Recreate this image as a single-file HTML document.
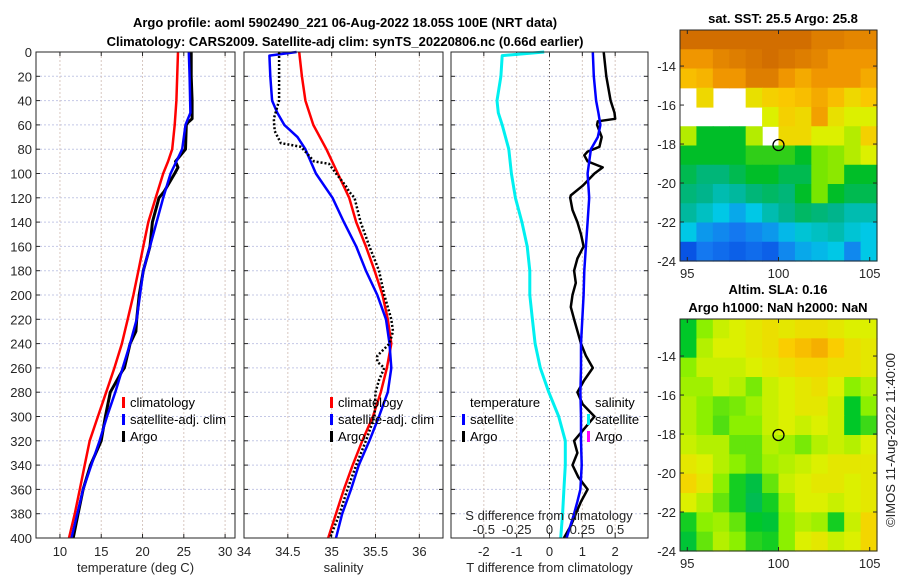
<!DOCTYPE html>
<html><head><meta charset="utf-8">
<style>
html,body{margin:0;padding:0;background:#fff;}
svg{display:block;font-family:"Liberation Sans","DejaVu Sans",sans-serif;}
</style></head>
<body>
<svg id="c" width="900" height="580" viewBox="0 0 900 580" xmlns="http://www.w3.org/2000/svg">
<text x="345" y="27" text-anchor="middle" font-size="13" font-weight="bold" fill="#000">Argo profile: aoml 5902490_221 06-Aug-2022 18.05S 100E (NRT data)</text>
<text x="345" y="46" text-anchor="middle" font-size="13" font-weight="bold" fill="#000">Climatology: CARS2009. Satellite-adj clim: synTS_20220806.nc (0.66d earlier)</text>
<text x="783" y="23" text-anchor="middle" font-size="13" font-weight="bold">sat. SST: 25.5 Argo: 25.8</text>
<text x="778" y="294" text-anchor="middle" font-size="13" font-weight="bold">Altim. SLA: 0.16</text>
<text x="778" y="312" text-anchor="middle" font-size="13" font-weight="bold">Argo h1000: NaN h2000: NaN</text>
<text transform="translate(895,440) rotate(-90)" text-anchor="middle" font-size="13" fill="#262626">©IMOS 11-Aug-2022 11:40:00</text>
<g id="g"></g>
</svg>
<script>
// ---------- data ----------
const depthTicks = [0,20,40,60,80,100,120,140,160,180,200,220,240,260,280,300,320,340,360,380,400];
const tTicks = [10,15,20,25,30];
const sTicks = [34,34.5,35,35.5,36];
const dTicks = [-2,-1,0,1,2];
const sdTicks = [-0.5,-0.25,0,0.25,0.5];
const sdTickLabels = ["-0.5","-0.25","0","0.25","0.5"];

const climTdepth = [0,20,40,60,80,90,100,120,140,160,180,200,220,240,260,280,300,320,340,360,380,400];
const climT = [24.3,24.2,24.1,23.9,23.6,23.1,22.5,21.6,20.7,20.1,19.5,18.9,18.2,17.5,16.6,15.6,14.6,13.6,13.0,12.4,11.8,11.1];
const satTdepth = [0,20,50,60,80,100,120,140,160,180,200,220,240,260,280,300,320,340,360,380,400];
const satT = [25.6,25.7,25.8,25.2,24.8,23.4,22.5,21.7,20.9,20.1,19.7,19.3,18.5,17.6,16.7,15.7,14.8,13.8,12.8,12.1,11.4];
const argoTdepth = [0,20,40,55,58,60,80,90,95,100,115,120,140,160,180,200,220,230,240,260,263,280,300,320,340,360,380,400];
const argoT = [25.9,25.9,26.0,26.0,25.5,25.3,25.2,24.0,24.3,23.9,22.6,22.0,21.2,20.9,20.1,19.6,19.3,19.2,18.5,17.8,17.5,16.1,15.5,15.0,13.7,12.8,12.2,11.6];

const climSdepth = [0,20,40,60,80,100,120,140,160,180,200,220,240,260,280,300,320,340,360,380,400];
const climS = [34.63,34.66,34.70,34.79,34.94,35.07,35.20,35.28,35.39,35.49,35.58,35.64,35.68,35.63,35.56,35.47,35.35,35.24,35.14,35.05,34.96];
const satSdepth = [0,3,20,40,50,60,70,80,100,120,140,160,180,200,220,240,260,280,300,320,340,360,380,400];
const satS = [34.60,34.29,34.30,34.32,34.38,34.46,34.61,34.70,34.82,35.01,35.14,35.28,35.39,35.52,35.62,35.66,35.68,35.64,35.54,35.43,35.31,35.22,35.12,35.05];
const argoSdepth = [0,20,40,55,65,75,78,90,92,100,110,115,120,140,160,180,200,220,230,240,250,255,260,270,280,300,320,340,360,380,400];
const argoS = [34.40,34.40,34.40,34.34,34.35,34.42,34.65,34.80,34.97,35.05,35.16,35.20,35.26,35.33,35.43,35.54,35.60,35.68,35.70,35.66,35.52,35.52,35.60,35.54,35.50,35.49,35.39,35.28,35.18,35.09,34.98];

const dSatTdepth = [0,20,40,50,60,70,80,100,120,140,160,180,200,220,240,260,280,300,320,340,360,370,380,400];
const dSatT = [1.32,1.35,1.42,1.49,1.55,1.47,1.26,1.16,1.21,1.16,1.11,1.06,1.04,1.00,0.96,0.96,0.94,0.96,0.96,0.98,0.94,0.85,0.75,0.52];
const dArgoTdepth = [0,20,40,50,55,57,60,70,78,82,85,90,95,100,110,118,120,130,140,150,160,170,180,190,200,210,220,240,250,260,270,280,290,300,310,320,330,340,350,360,370,380,390,400];
const dArgoT = [1.65,1.73,1.86,1.98,2.0,1.47,1.45,1.59,1.52,1.16,1.06,1.16,1.62,1.37,1.01,0.65,0.63,0.70,0.85,0.96,1.04,0.85,0.75,0.80,0.70,0.65,0.75,0.96,1.11,1.32,1.06,0.85,1.01,1.37,1.06,0.75,0.85,0.70,0.88,1.16,0.96,0.80,0.65,0.44];
const dSatSdepth = [0,3,20,40,50,60,80,100,120,140,160,180,200,220,240,260,280,300,320,340,360,380,400];
const dSatS = [-0.04,-0.36,-0.37,-0.40,-0.39,-0.36,-0.31,-0.29,-0.26,-0.21,-0.17,-0.15,-0.15,-0.13,-0.11,-0.07,-0.005,0.07,0.12,0.12,0.11,0.10,0.085];

const lonTicks = [95,100,105];
const latTicks = [-14,-16,-18,-20,-22,-24];
const sstGrid = [
[27.5,27.5,27.5,27.5,27.5,27.5,27.5,27.5,27.3,27.3,27.2,27.2],
[27.0,27.0,27.2,27.3,27.4,27.5,27.4,27.3,27.2,27.0,27.0,27.0],
[26.6,26.7,27.0,27.0,27.3,27.3,27.0,26.8,27.0,27.0,27.0,26.8],
[null,26.3,null,null,26.2,26.4,26.5,26.6,26.8,26.6,26.3,26.5],
[null,null,null,null,null,26.0,26.4,26.3,26.9,26.2,26.0,26.0],
[25.8,25.0,25.0,25.0,25.8,null,26.3,26.3,26.0,26.0,25.8,26.4],
[25.0,25.0,25.0,25.0,25.2,25.2,25.2,25.0,25.5,25.6,25.8,26.0],
[24.8,24.6,24.6,24.8,25.0,25.0,24.8,24.8,25.5,25.6,25.0,25.0],
[24.6,24.5,24.3,24.4,24.6,24.7,24.6,25.0,25.5,25.0,24.8,24.8],
[24.4,24.2,24.0,23.8,24.0,24.3,24.5,24.7,24.6,24.5,24.3,24.3],
[24.0,23.7,23.6,23.5,23.6,23.7,23.9,24.1,24.2,24.3,24.1,24.0],
[23.2,23.5,23.4,23.3,23.4,23.3,23.6,23.8,23.9,24.0,23.6,24.0]];
const slaGrid = [
[0.05,0.12,0.15,0.16,0.17,0.18,0.17,0.18,0.18,0.17,0.16,0.16],
[0.05,0.14,0.16,0.16,0.17,0.18,0.20,0.21,0.22,0.20,0.18,0.17],
[0.12,0.15,0.15,0.15,0.16,0.17,0.18,0.19,0.19,0.18,0.18,0.17],
[0.13,0.13,0.15,0.14,0.11,0.15,0.16,0.17,0.18,0.16,0.12,0.14],
[0.14,0.12,0.10,0.11,0.13,0.15,0.16,0.17,0.17,0.15,0.05,0.12],
[0.14,0.12,0.09,0.12,0.12,0.15,0.16,0.15,0.16,0.15,0.05,0.08],
[0.15,0.14,0.14,0.10,0.10,0.14,0.13,0.11,0.14,0.15,0.14,0.16],
[0.17,0.16,0.14,0.12,0.10,0.13,0.14,0.15,0.16,0.17,0.17,0.17],
[0.19,0.17,0.12,0.06,0.03,0.10,0.15,0.16,0.17,0.17,0.16,0.17],
[0.16,0.14,0.10,0.06,0.02,0.06,0.13,0.16,0.16,0.15,0.16,0.17],
[0.06,0.12,0.13,0.10,0.05,0.04,0.12,0.14,0.13,0.06,0.15,0.19],
[0.04,0.10,0.14,0.12,0.07,0.06,0.12,0.16,0.17,0.15,0.16,0.19]];
const argoLon = [100];
const argoLat = [-18.05];

// ---------- drawing ----------
const NS="http://www.w3.org/2000/svg";
const G=document.getElementById('g');
function mk(tag,attrs,parent){const e=document.createElementNS(NS,tag);for(const k in attrs)e.setAttribute(k,attrs[k]);(parent||G).appendChild(e);return e;}
function txt(x,y,s,size,anchor,parent){const t=mk('text',{x:x,y:y,'font-size':size,'text-anchor':anchor||'middle',fill:'#262626'},parent);t.textContent=s;return t;}

const Y0=52,Y1=538;
const yD=d=>Y0+(d/400)*(Y1-Y0);
function axisX(x0,x1,v0,v1){return v=>x0+(v-v0)/(v1-v0)*(x1-x0);}

const panels=[
 {name:'temperature-panel',x0:36,x1:235,v0:7.1,v1:31.2,ticks:tTicks,labels:tTicks.map(String),xlabel:'temperature (deg C)',ylab:true},
 {name:'salinity-panel',x0:244,x1:443,v0:34.0,v1:36.27,ticks:sTicks,labels:sTicks.map(String),xlabel:'salinity',ylab:false},
 {name:'difference-panel',x0:451,x1:648,v0:-3.0,v1:3.0,ticks:dTicks,labels:dTicks.map(String),xlabel:'T difference from climatology',ylab:false}
];
const scales=[];
panels.forEach((p,i)=>{
 const g=mk('g',{});
 
 
 const X=axisX(p.x0,p.x1,p.v0,p.v1);scales.push(X);
 mk('rect',{x:p.x0,y:Y0,width:p.x1-p.x0,height:Y1-Y0,fill:'#fff'},g);
 depthTicks.forEach(d=>{
  if(d>0&&d<400)mk('line',{x1:p.x0,x2:p.x1,y1:yD(d),y2:yD(d),stroke:'#c4c8e6','stroke-width':1,'stroke-dasharray':'2,2'},g);
  mk('line',{x1:p.x0,x2:p.x0+4,y1:yD(d),y2:yD(d),stroke:'#262626'},g);
  mk('line',{x1:p.x1-4,x2:p.x1,y1:yD(d),y2:yD(d),stroke:'#262626'},g);
  if(p.ylab){const t=txt(p.x0-4,yD(d)+5,String(d),13,'end',g);}
 });
 p.ticks.forEach((v,k)=>{
  const x=X(v);
  if(x>p.x0+1&&x<p.x1-1)mk('line',{x1:x,x2:x,y1:Y0,y2:Y1,stroke:'#d8c8c0','stroke-width':1,'stroke-dasharray':'2,2'},g);
  mk('line',{x1:x,x2:x,y1:Y1,y2:Y1-4,stroke:'#262626'},g);
  mk('line',{x1:x,x2:x,y1:Y0,y2:Y0+4,stroke:'#262626'},g);
  const t=txt(x,Y1+18,p.labels[k],13,'middle',g);
  
  
 });
 const xl=txt((p.x0+p.x1)/2,Y1+34,p.xlabel,13,'middle',g);
 
 
 p.g=g;
});

function line(xs,ds,X,color,w,dash,name,parent){
 const pts=xs.map((v,i)=>X(v).toFixed(1)+','+yD(ds[i]).toFixed(1)).join(' ');
 const l=mk('polyline',{points:pts,fill:'none',stroke:color,'stroke-width':w,'stroke-linejoin':'round'},parent);
 if(dash)l.setAttribute('stroke-dasharray',dash);
 
 
}
line(climT,climTdepth,scales[0],'#ff0000',2.5,null,'climatology-temperature-line',panels[0].g);
line(argoT,argoTdepth,scales[0],'#000',3,null,'argo-temperature-line',panels[0].g);
line(satT,satTdepth,scales[0],'#0000ff',2.5,null,'satellite-temperature-line',panels[0].g);
line(climS,climSdepth,scales[1],'#ff0000',2.5,null,'climatology-salinity-line',panels[1].g);
line(satS,satSdepth,scales[1],'#0000ff',2.5,null,'satellite-salinity-line',panels[1].g);
line(argoS,argoSdepth,scales[1],'#000',2.5,'2,2','argo-salinity-line',panels[1].g);
const SX=axisX(451,648,-0.75,0.75);
mk('line',{x1:scales[2](0),x2:scales[2](0),y1:Y0,y2:Y1,stroke:'#555','stroke-width':1,'stroke-dasharray':'1,3'},panels[2].g);
line(dSatS,dSatSdepth,SX,'#00f0f0',3,null,'satellite-salinity-difference-line',panels[2].g);
line(dArgoT,dArgoTdepth,scales[2],'#000',2.5,null,'argo-temperature-difference-line',panels[2].g);
line(dSatT,dSatTdepth,scales[2],'#0000ff',2.5,null,'satellite-temperature-difference-line',panels[2].g);
sdTicks.forEach((v,k)=>{
 const t=txt(SX(v),Y1-4,sdTickLabels[k],13,'middle',panels[2].g);
 
 
});
const sdt=txt(549,Y1-18,'S difference from climatology',13,'middle',panels[2].g);


panels.forEach(p=>mk('rect',{x:p.x0,y:Y0,width:p.x1-p.x0,height:Y1-Y0,fill:'none',stroke:'#262626','stroke-width':1},p.g));

function legend(x,y,color,label,name){
 const g=mk('g',{});
 
 
 mk('rect',{x:x,y:y-10,width:3,height:11,fill:color},g);
 const t=txt(x+8,y,label,13,'start',g);t.setAttribute('fill','#000');
}
const L1=407,L2=424,L3=441;
legend(122,L1,'#ff0000','climatology','legend-climatology');
legend(122,L2,'#0000ff','satellite-adj. clim','legend-satellite-adj');
legend(122,L3,'#000','Argo','legend-argo');
legend(330,L1,'#ff0000','climatology','legend-climatology-salinity');
legend(330,L2,'#0000ff','satellite-adj. clim','legend-satellite-adj-salinity');
legend(330,L3,'#000','Argo','legend-argo-salinity');
const lt=txt(470,L1,'temperature',13,'start');lt.setAttribute('fill','#000');


legend(462,L2,'#0000ff','satellite','legend-temperature-satellite');
legend(462,L3,'#000','Argo','legend-temperature-argo');
const ls=txt(595,L1,'salinity',13,'start');ls.setAttribute('fill','#000');


legend(587,L2,'#00f0f0','satellite','legend-salinity-satellite');
legend(587,L3,'#ff00ff','Argo','legend-salinity-argo');

function interp(stops,v){
 if(v<=stops[0][0])return stops[0][1];
 for(let i=1;i<stops.length;i++){if(v<=stops[i][0]){const a=stops[i-1],b=stops[i],f=(v-a[0])/(b[0]-a[0]);return a[1].map((c,k)=>Math.round(c+(b[1][k]-c)*f));}}
 return stops[stops.length-1][1];
}
const sstStops=[[23,[0,60,220]],[23.5,[20,120,240]],[24,[0,200,230]],[24.5,[0,180,140]],[25,[0,190,40]],[25.5,[120,230,0]],[26,[220,240,0]],[26.5,[250,200,0]],[27,[240,150,0]],[27.5,[210,110,0]]];
const slaStops=[[0.0,[0,180,110]],[0.05,[0,200,40]],[0.12,[140,240,0]],[0.16,[220,240,0]],[0.2,[250,205,0]],[0.22,[245,175,0]]];
function map(name,y0,y1,latTop,grid,stops){
 const g=mk('g',{});
 
 
 const x0=680,x1=877,lon0=94.6,lon1=105.4,latBot=-24;
 const LX=axisX(x0,x1,lon0,lon1),LY=axisX(y0,y1,latTop,latBot);
 const nr=grid.length,nc=grid[0].length,cw=(x1-x0)/nc,ch=(y1-y0)/nr;
 grid.forEach((row,r)=>row.forEach((v,c)=>{
  if(v===null)return;
  const col=interp(stops,v);
  const cell=mk('rect',{x:(x0+c*cw).toFixed(2),y:(y0+r*ch).toFixed(2),width:(cw+0.6).toFixed(2),height:(ch+0.6).toFixed(2),fill:'rgb('+col.join(',')+')'},g);
  
  
 }));
 mk('rect',{x:x0,y:y0,width:x1-x0,height:y1-y0,fill:'none',stroke:'#262626'},g);
 lonTicks.forEach(v=>{const x=LX(v);mk('line',{x1:x,x2:x,y1:y1,y2:y1-4,stroke:'#262626'},g);mk('line',{x1:x,x2:x,y1:y0,y2:y0+4,stroke:'#262626'},g);
  const t=txt(x,y1+17,String(v),13,'middle',g);});
 latTicks.forEach(v=>{const y=LY(v);mk('line',{x1:x0,x2:x0+4,y1:y,y2:y,stroke:'#262626'},g);mk('line',{x1:x1-4,x2:x1,y1:y,y2:y,stroke:'#262626'},g);
  const t=txt(x0-4,y+5,String(v),13,'end',g);});
 argoLon.forEach((lo,i)=>{const m=mk('circle',{cx:LX(lo),cy:LY(argoLat[i]),r:5.5,fill:'none',stroke:'#000','stroke-width':1.3},g);
  });
}
map('sst-map',30,261,-12.15,sstGrid,sstStops);
map('sla-map',319,551,-12.1,slaGrid,slaStops);
</script>
</body></html>
